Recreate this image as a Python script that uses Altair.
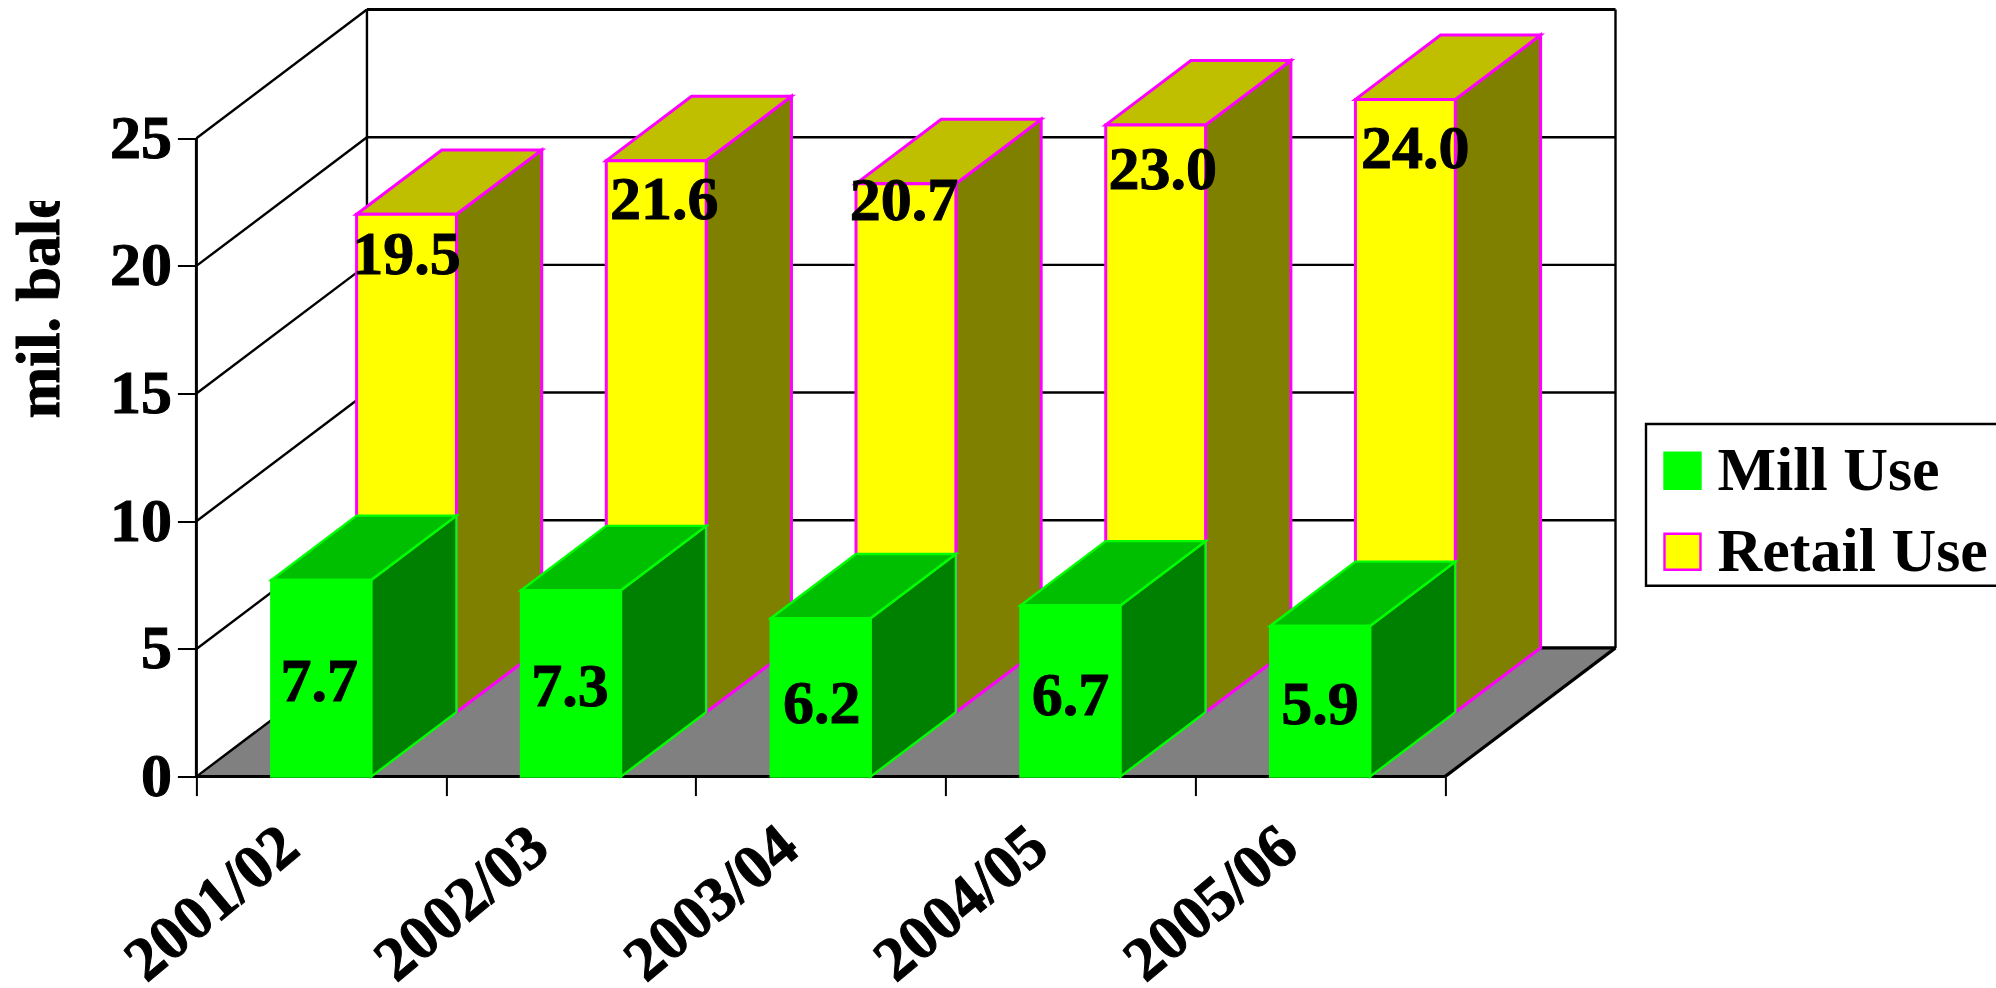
import altair as alt
import pandas as pd

# Cotton consumption, million bales
seasons = ["2001/02", "2002/03", "2003/04", "2004/05", "2005/06"]
mill_use = [7.7, 7.3, 6.2, 6.7, 5.9]
retail_use = [19.5, 21.6, 20.7, 23.0, 24.0]
y_ticks = [0, 5, 10, 15, 20, 25]

# Oblique projection: how far the full depth of the box shifts a point,
# in category units and in value units.
DEPTH_X = 0.683
DEPTH_Y = 5.04
BAR_START = 0.3
BAR_WIDTH = 0.4

FONT = "Liberation Serif"
FONT_SIZE = 62
# All chart text is drawn a little heavier than the plain bold face
TEXT_STYLE = dict(font=FONT, fontSize=FONT_SIZE, fontWeight="bold", color="black",
                  stroke="black", strokeWidth=1)


def px(x, z):
    return x + z * DEPTH_X


def py(v, z):
    return v + z * DEPTH_Y


def bar_faces(values, z0, z1):
    front, side, top = [], [], []
    for i, v in enumerate(values):
        left, right = i + BAR_START, i + BAR_START + BAR_WIDTH
        front.append(dict(x=px(left, z0), x2=px(right, z0), y=py(0, z0), y2=py(v, z0)))
        for z in (z0, z1):
            side.append(dict(id=i, x=px(right, z), y=py(0, z), y2=py(v, z)))
            top.append(dict(id=i, y=py(v, z), x=px(left, z), x2=px(right, z)))
    return pd.DataFrame(front), pd.DataFrame(side), pd.DataFrame(top)


x_scale = alt.Scale(domain=[0, 5 + DEPTH_X], nice=False, zero=False)
y_scale = alt.Scale(domain=[0, 25 + DEPTH_Y], nice=False, zero=False)

# Shared axes supply the tick marks; their labels are text layers further down
x_axis = alt.Axis(
    values=list(range(6)),
    labels=False,
    grid=False,
    domain=False,
    title=None,
    tickSize=19,
    tickWidth=2,
    tickColor="black",
)
y_axis = alt.Axis(
    values=y_ticks,
    labels=False,
    grid=False,
    domain=False,
    title=None,
    tickSize=19,
    tickWidth=2,
    tickColor="black",
)
X = alt.X("x:Q", scale=x_scale, axis=x_axis)
Y = alt.Y("y:Q", scale=y_scale, axis=y_axis)

series_scale = alt.Scale(domain=["Mill Use", "Retail Use"], range=["#00ff00", "#ffff00"])
edge_scale = alt.Scale(domain=["Mill Use", "Retail Use"], range=["#00ff00", "#ff00ff"])


def rules(rows, width=2.4):
    return (
        alt.Chart(pd.DataFrame(rows))
        .mark_rule(color="black", strokeWidth=width)
        .encode(X, Y, x2="x2:Q", y2="y2:Q")
    )


def bar_layers(values, z0, z1, name, edge, top_fill, side_fill, width):
    front, side, top = bar_faces(values, z0, z1)
    side_layer = (
        alt.Chart(side)
        .mark_area(fill=side_fill, stroke=edge, strokeWidth=width)
        .encode(X, Y, y2="y2:Q", detail="id:N")
    )
    top_layer = (
        alt.Chart(top)
        .mark_area(orient="horizontal", fill=top_fill, stroke=edge, strokeWidth=width)
        .encode(X, Y, x2="x2:Q", detail="id:N")
    )
    front_layer = (
        alt.Chart(front.assign(series=name))
        .mark_rect(strokeWidth=width)
        .encode(
            X,
            Y,
            x2="x2:Q",
            y2="y2:Q",
            fill=alt.Fill("series:N", scale=series_scale, legend=alt.Legend(
                title=None,
                orient="none",
                legendX=1455.1,
                legendY=430.2,
                symbolType="square",
                symbolSize=1296,
                symbolStrokeWidth=2.4,
                labelFont=FONT,
                labelFontSize=FONT_SIZE,
                labelFontWeight="bold",
                labelColor="black",
                labelLimit=400,
                labelOffset=4,
                rowPadding=19,
                padding=0,
            )),
            stroke=alt.Stroke("series:N", scale=edge_scale, legend=None),
        )
    )
    return [side_layer, top_layer, front_layer]


# Floor of the box
floor_rows = [
    dict(y=py(0, z), x=px(0, z), x2=px(5, z)) for z in (0, 1)
]
floor = (
    alt.Chart(pd.DataFrame(floor_rows))
    .mark_area(orient="horizontal", fill="#808080")
    .encode(X, Y, x2="x2:Q")
)

# Back wall grid, side diagonals and frame edges
wall = rules(
    [dict(x=px(0, 1), x2=px(5, 1), y=py(v, 1), y2=py(v, 1)) for v in y_ticks[1:-1]]
    + [dict(x=0, x2=px(0, 1), y=v, y2=py(v, 1)) for v in y_ticks]
    + [dict(x=px(0, 1), x2=px(0, 1), y=py(0, 1), y2=py(25, 1))]
    + [dict(x=px(5, 1), x2=px(5, 1), y=py(0, 1), y2=py(25, 1))]
)
wall_heavy = rules(
    [dict(x=px(0, 1), x2=px(5, 1), y=py(25, 1), y2=py(25, 1))]
    + [dict(x=px(0, 1), x2=px(5, 1), y=py(0, 1), y2=py(0, 1))]
    + [dict(x=px(5, 0), x2=px(5, 1), y=0, y2=py(0, 1))],
    width=3.2,
)
front_edges = rules(
    [dict(x=0, x2=0, y=0, y2=25), dict(x=0, x2=5, y=0, y2=0)],
    width=3,
)

retail_layers = bar_layers(retail_use, 0.5, 1.0, "Retail Use", "#ff00ff", "#bfbf00", "#808000", 3)
mill_layers = bar_layers(mill_use, 0.0, 0.5, "Mill Use", "#00ff00", "#00bf00", "#008000", 2.4)


def value_label(value, x, y, dx, dy):
    return (
        alt.Chart(pd.DataFrame({"x": [x], "y": [y], "t": [f"{value:.1f}"]}))
        .mark_text(align="center", baseline="middle", dx=dx, dy=dy, **TEXT_STYLE)
        .encode(X, Y, text="t:N")
    )


# Hand-tuned label nudges for the retail tops, centred in the mill bars
retail_nudges = [(0, 41), (8, 39), (-2, 17), (7, 45), (10, 50)]
mill_nudges = [(-2, 4), (-1, 4), (1, 7), (0, 5), (0, 4)]

retail_labels = [
    value_label(v, px(i + BAR_START + BAR_WIDTH / 2, 0.5), py(v, 0.5), *retail_nudges[i])
    for i, v in enumerate(retail_use)
]
mill_labels = [
    value_label(v, i + BAR_START + BAR_WIDTH / 2, v / 2, *mill_nudges[i])
    for i, v in enumerate(mill_use)
]

# Tick labels: values to the left of the front edge, seasons slanted under the ticks
y_labels = (
    alt.Chart(pd.DataFrame({"x": [0] * len(y_ticks), "y": y_ticks, "t": [str(v) for v in y_ticks]}))
    .mark_text(align="right", baseline="middle", dx=-24.5, dy=0.5, **TEXT_STYLE)
    .encode(X, Y, text="t:N")
)
x_labels = (
    alt.Chart(pd.DataFrame({"x": list(range(len(seasons))), "y": [0] * len(seasons), "t": seasons}))
    .mark_text(align="center", baseline="middle", angle=320, dx=-69.5, dy=107.4, **TEXT_STYLE)
    .encode(X, Y, text="t:N")
)

# Vertical axis title; its last letter is cut off by the frame of the title box
axis_title = (
    alt.Chart(pd.DataFrame({"t": ["mil. bales"]}))
    .mark_text(angle=270, align="left", baseline="alphabetic", **TEXT_STYLE)
    .encode(x=alt.value(-137.5), y=alt.value(409), text="t:N")
)
title_cut = (
    alt.Chart(pd.DataFrame({"t": [0]}))
    .mark_rect(fill="white")
    .encode(x=alt.value(-196), x2=alt.value(-110), y=alt.value(-9), y2=alt.value(191.5))
)

# Frame behind the legend entries
legend_box = (
    alt.Chart(pd.DataFrame({"t": [0]}))
    .mark_rect(fill="white", stroke="black", strokeWidth=2.4)
    .encode(x=alt.value(1449.6), x2=alt.value(1900), y=alt.value(414.5), y2=alt.value(576.2))
)

chart = alt.layer(
    floor,
    wall,
    wall_heavy,
    *retail_layers,
    front_edges,
    *mill_layers,
    *retail_labels,
    *mill_labels,
    y_labels,
    x_labels,
    axis_title,
    title_cut,
    legend_box,
).properties(
    width=1419.1,
    height=767.1,
    autosize="none",
    padding={"left": 196.4, "top": 9.5, "right": 380.5, "bottom": 211.4},
    background="white",
).configure_view(stroke=None)

chart.save("out.html", embed_options={"renderer": "svg", "actions": False})
